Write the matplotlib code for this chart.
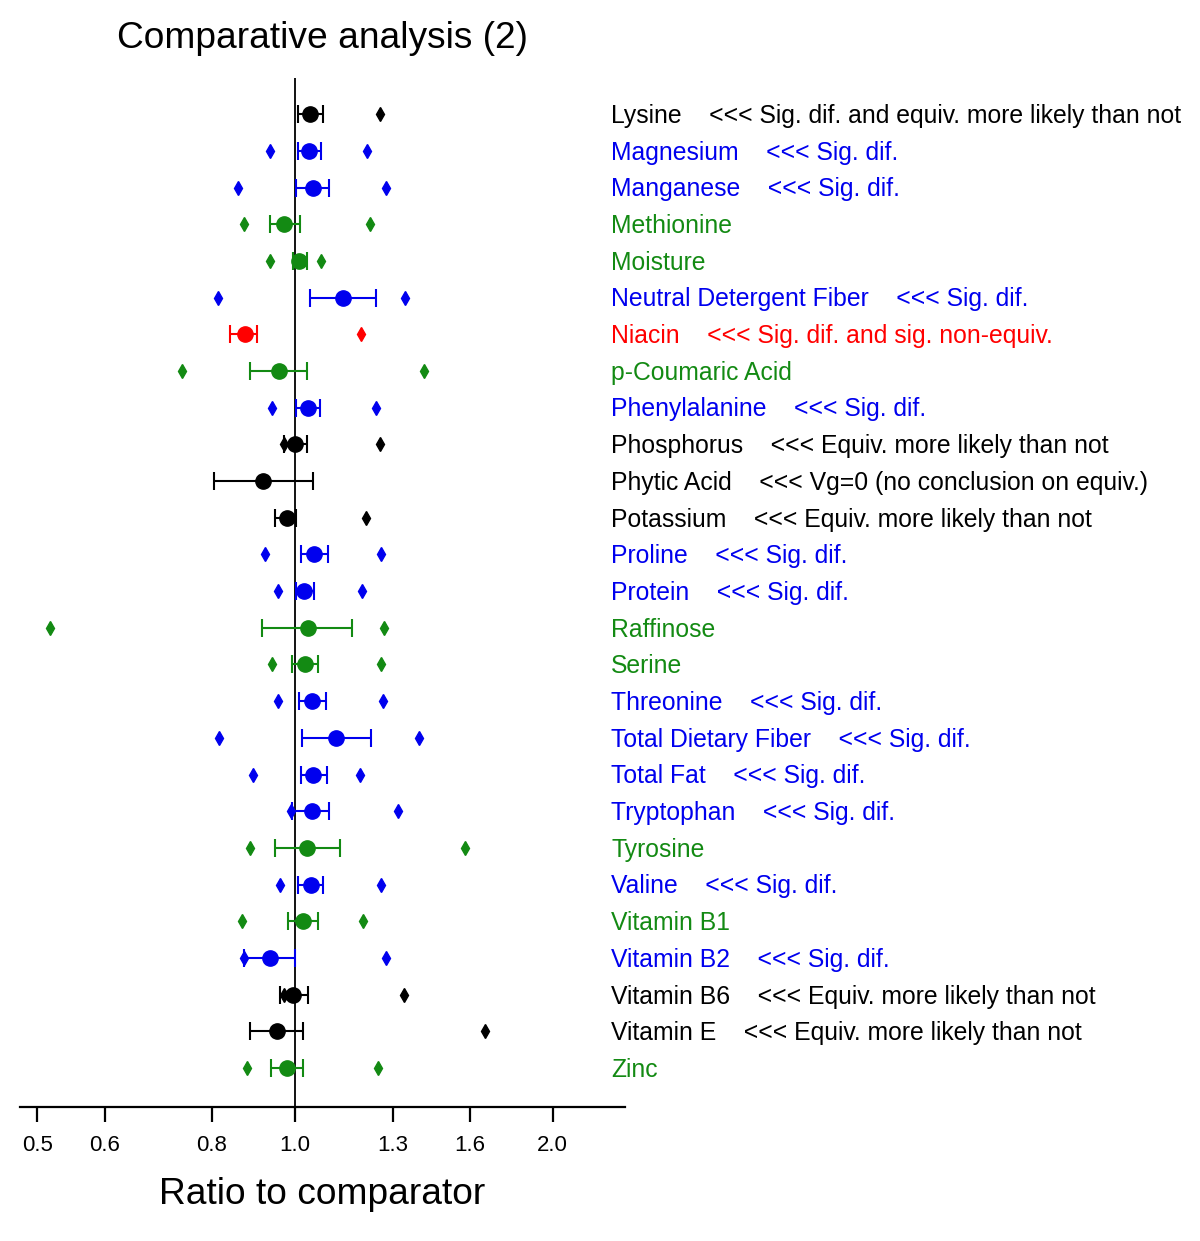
import numpy as np
import matplotlib
matplotlib.use("Agg")
import matplotlib.pyplot as plt
import matplotlib.transforms as mtransforms

plt.rcParams["font.family"] = ["Liberation Sans", "DejaVu Sans"]

# Data (ratio to comparator, log axis)
names = ["Lysine", "Magnesium", "Manganese", "Methionine", "Moisture",
         "Neutral Detergent Fiber", "Niacin", "p-Coumaric Acid", "Phenylalanine",
         "Phosphorus", "Phytic Acid", "Potassium", "Proline", "Protein",
         "Raffinose", "Serine", "Threonine", "Total Dietary Fiber", "Total Fat",
         "Tryptophan", "Tyrosine", "Valine", "Vitamin B1", "Vitamin B2",
         "Vitamin B6", "Vitamin E", "Zinc"]
status = ["eq", "sig", "sig", "ns", "ns", "sig", "neq", "ns", "sig", "eq", "vg0",
          "eq", "sig", "sig", "ns", "ns", "sig", "sig", "sig", "sig", "ns", "sig",
          "ns", "sig", "eq", "eq", "ns"]
notes = ["<<< Sig. dif. and equiv. more likely than not", "<<< Sig. dif.",
         "<<< Sig. dif.", "", "", "<<< Sig. dif.",
         "<<< Sig. dif. and sig. non-equiv.", "", "<<< Sig. dif.",
         "<<< Equiv. more likely than not",
         "<<< Vg=0 (no conclusion on equiv.)",
         "<<< Equiv. more likely than not", "<<< Sig. dif.", "<<< Sig. dif.",
         "", "", "<<< Sig. dif.", "<<< Sig. dif.", "<<< Sig. dif.",
         "<<< Sig. dif.", "", "<<< Sig. dif.", "", "<<< Sig. dif.",
         "<<< Equiv. more likely than not", "<<< Equiv. more likely than not", ""]
ratio = [1.042, 1.039, 1.050, 0.970, 1.012, 1.138, 0.874, 0.957, 1.036, 1.000,
         0.917, 0.978, 1.053, 1.025, 1.035, 1.028, 1.048, 1.116, 1.051, 1.048,
         1.034, 1.043, 1.021, 0.936, 0.996, 0.952, 0.978]
ci_low = [1.007, 1.007, 1.003, 0.934, 0.994, 1.040, 0.840, 0.885, 1.004, 0.972,
          0.804, 0.947, 1.017, 1.004, 0.916, 0.993, 1.011, 1.020, 1.017, 0.993,
          0.948, 1.007, 0.981, 0.872, 0.960, 0.887, 0.937]
ci_high = [1.078, 1.073, 1.097, 1.013, 1.032, 1.242, 0.903, 1.032, 1.070, 1.032,
           1.050, 1.004, 1.093, 1.053, 1.167, 1.064, 1.088, 1.226, 1.091, 1.097,
           1.128, 1.078, 1.065, 1.000, 1.035, 1.021, 1.021]
ref_low = [np.nan, 0.936, 0.858, 0.872, 0.935, 0.813, np.nan, 0.738, 0.940, 0.972,
           np.nan, np.nan, 0.922, 0.955, 0.518, 0.940, 0.956, 0.815, 0.894, 0.989,
           0.887, 0.960, 0.868, 0.872, 0.972, np.nan, 0.880]
ref_high = [1.257, 1.213, 1.278, 1.222, 1.074, 1.345, 1.194, 1.415, 1.244, 1.256,
            np.nan, 1.209, 1.261, 1.197, 1.271, 1.260, 1.266, 1.395, 1.190, 1.318,
            1.579, 1.262, 1.201, 1.278, 1.339, 1.665, 1.249]
ticks = [0.5, 0.6, 0.8, 1.0, 1.3, 1.6, 2.0]

colors = {"eq": "black", "vg0": "black", "sig": "#0000ee", "ns": "#138a13",
          "neq": "#ff0000"}

fig = plt.figure(figsize=(12, 12.41), dpi=100)
ax = fig.add_axes([0.0167, 0.108, 0.504, 0.829])

ypos = np.arange(len(names))
ax.axvline(1.0, color="black", lw=1.3, zorder=1)

for i in range(len(names)):
    c = colors[status[i]]
    ax.errorbar(ratio[i], ypos[i],
                xerr=[[ratio[i] - ci_low[i]], [ci_high[i] - ratio[i]]],
                fmt="o", color=c, ms=11, capsize=6.5, elinewidth=1.5,
                capthick=1.5, zorder=3)
    ax.plot([ref_low[i], ref_high[i]], [ypos[i], ypos[i]], "d", color=c,
            ms=7.5, zorder=2)

# labels to the right of the plot
trans = mtransforms.blended_transform_factory(fig.transFigure, ax.transData)
for i in range(len(names)):
    label = names[i] + ("    " + notes[i] if notes[i] else "")
    ax.text(611 / 1200, ypos[i] + 0.05, label, transform=trans,
            color=colors[status[i]], fontsize=17.8, va="center", ha="left",
            clip_on=False)

ax.set_xscale("log")
ax.set_xlim(0.4775, 2.428)
ax.set_ylim(27.06, -0.98)
ax.set_xticks(ticks)
ax.set_xticklabels([f"{t:.1f}" for t in ticks])
ax.xaxis.set_minor_locator(matplotlib.ticker.NullLocator())
ax.tick_params(axis="x", length=11, width=1.6, labelsize=16, pad=9)
ax.set_yticks([])
for s in ["left", "right", "top"]:
    ax.spines[s].set_visible(False)
ax.spines["bottom"].set_linewidth(1.6)

ax.set_xlabel("Ratio to comparator", fontsize=26.7, labelpad=15)
fig.text(322 / 1200, 1 - 38 / 1241, "Comparative analysis (2)", fontsize=26.7,
         ha="center", va="center")

fig.savefig("out.png", dpi=100)
